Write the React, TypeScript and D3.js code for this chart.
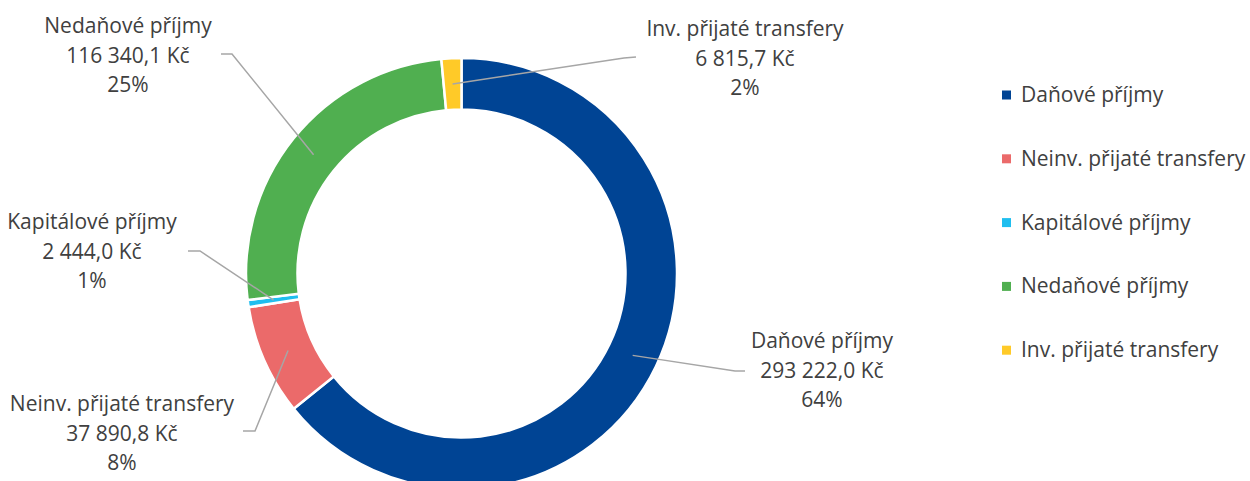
import React from "react";
import * as d3 from "d3";

const categories = ["Daňové příjmy", "Neinv. přijaté transfery", "Kapitálové příjmy", "Nedaňové příjmy", "Inv. přijaté transfery"];
const values = [293222.0, 37890.8, 2444.0, 116340.1, 6815.7];
const valueLabels = ["293 222,0 Kč", "37 890,8 Kč", "2 444,0 Kč", "116 340,1 Kč", "6 815,7 Kč"];
const percentLabels = ["64%", "8%", "1%", "25%", "2%"];
const colors = ["#004494", "#EB6A6A", "#1FBEEF", "#50AF50", "#FFCA28"];

// layout of the data labels (text centre x, first baseline y) and leader-line end points
const labelPos = [
  { x: 822, y: 348, elbow: [735, 371], end: [745, 371] },
  { x: 122, y: 411, elbow: [255, 431], end: [243, 431] },
  { x: 92, y: 229, elbow: [200, 251], end: [188, 251] },
  { x: 128, y: 33, elbow: [232, 54], end: [221, 54] },
  { x: 745, y: 36, elbow: [624, 58], end: [636, 57] },
];

const W = 1250, H = 481;
const cx = 461.5, cy = 273.5, R = 215.5, r = 164;
const FONT = "'Open Sans', sans-serif";
const TEXT = "#404040";
const FS = 21;

export default function App() {
  const pie = d3.pie<number>().sort(null).value((d) => d)(values);
  const arc = d3.arc<d3.PieArcDatum<number>>().innerRadius(r).outerRadius(R);
  const mid = (R + r) / 2;
  return (
    <div style={{ position: "absolute", left: 0, top: 0 }}>
      <svg width={W} height={H} style={{ display: "block", background: "#fff" }}>
        <g transform={`translate(${cx},${cy})`}>
          {pie.map((p, i) => (
            <path key={i} d={arc(p) || ""} fill={colors[i]} stroke="#fff" strokeWidth={2.5} />
          ))}
        </g>
        {pie.map((p, i) => {
          const a = (p.startAngle + p.endAngle) / 2;
          const ax = cx + mid * Math.sin(a);
          const ay = cy - mid * Math.cos(a);
          const L = labelPos[i];
          return (
            <polyline key={"l" + i}
              points={`${ax},${ay} ${L.elbow[0]},${L.elbow[1]} ${L.end[0]},${L.end[1]}`}
              fill="none" stroke="#A6A6A6" strokeWidth={1.5} />
          );
        })}
        {categories.map((c, i) => {
          const L = labelPos[i];
          return (
            <text key={"t" + i} x={L.x} y={L.y} textAnchor="middle" fontFamily={FONT} fontSize={FS} fill={TEXT}>
              <tspan x={L.x} dy={0}>{c}</tspan>
              <tspan x={L.x} dy={29.5}>{valueLabels[i]}</tspan>
              <tspan x={L.x} dy={29.5}>{percentLabels[i]}</tspan>
            </text>
          );
        })}
        {categories.map((c, i) => {
          const y = 95 + i * 63.8;
          return (
            <g key={"g" + i}>
              <rect x={1002} y={y - 4.5} width={9} height={9} fill={colors[i]} />
              <text x={1021} y={y + 7} fontFamily={FONT} fontSize={FS} fill={TEXT}>{c}</text>
            </g>
          );
        })}
      </svg>
    </div>
  );
}
